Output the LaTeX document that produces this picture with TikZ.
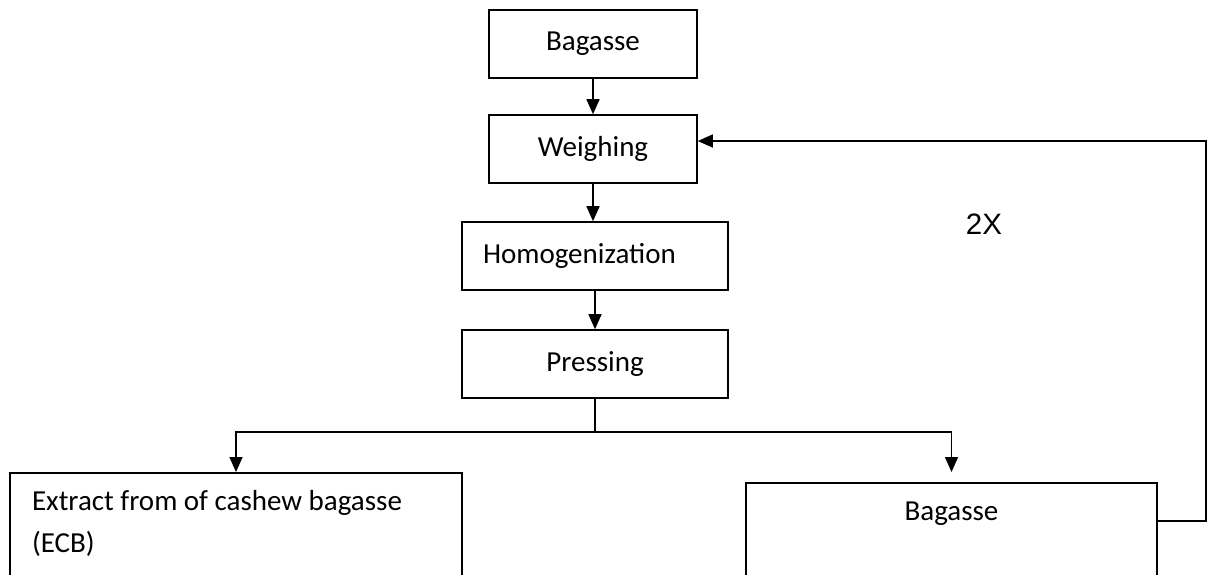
\documentclass[tikz,border=0pt]{standalone}
\usepackage{fontspec}
\setmainfont{Carlito}
\newfontfamily\arialfont{Liberation Sans}
\usetikzlibrary{arrows.meta}

\begin{document}
\begin{tikzpicture}[
        x=1pt, y=-1pt,
        font=\fontsize{29}{33}\selectfont,
        step box/.style={draw, line width=1.6pt, minimum height=68pt, inner sep=0pt},
        open box/.style={draw, line width=1.6pt, anchor=north, text height=20pt, text depth=140pt},
        flow/.style={line width=1.6pt, -{Triangle[length=15pt, width=13pt]}},
        link/.style={line width=1.6pt},
    ]

    % Page frame
    \useasboundingbox (0,0) rectangle (1209,574);

    % Main column of steps
    \node[step box, minimum width=208pt] (bagasse) at (593,44) {Bagasse};
    \node[step box, minimum width=208pt] (weighing) at (593,149) {Weighing};
    \node[step box, text width=224pt, inner xsep=21pt, align=flush left] (homog) at (595,256) {Homogenization};
    \node[step box, minimum width=266pt] (pressing) at (595,364) {Pressing};

    % Products after pressing
    \node[open box, text width=408pt, inner xsep=22pt, inner ysep=18pt, align=flush left,
          font=\fontsize{29}{42}\selectfont] (ecb) at (236,472)
        {Extract from of cashew bagasse (ECB)};
    \node[open box, text width=411pt, inner xsep=0pt, inner ysep=18pt, align=center] (residue) at (951.5,482) {Bagasse};

    % Repeat label
    \node[font=\arialfont\fontsize{29.5}{34}\selectfont] (twice) at (984,224) {2X};

    % Arrows down the column
    \draw[flow] (bagasse) -- (weighing);
    \draw[flow] (weighing.south) -- (weighing.south |- homog.north);
    \draw[flow] (homog.south -| pressing.north) -- (pressing.north);

    % Split into extract and bagasse
    \coordinate (split) at (595,432);
    \draw[link] (pressing.south) -- (split);
    \draw[flow] (split) -| (ecb.north);
    \draw[flow, shorten >=10pt] (split) -| (residue.north);

    % Return of the bagasse to weighing
    \coordinate (edge) at (1206,300);
    \draw[flow] ([yshift=-39pt]residue.north east) -| (edge) |- ([yshift=8pt]weighing.east);

\end{tikzpicture}
\end{document}
